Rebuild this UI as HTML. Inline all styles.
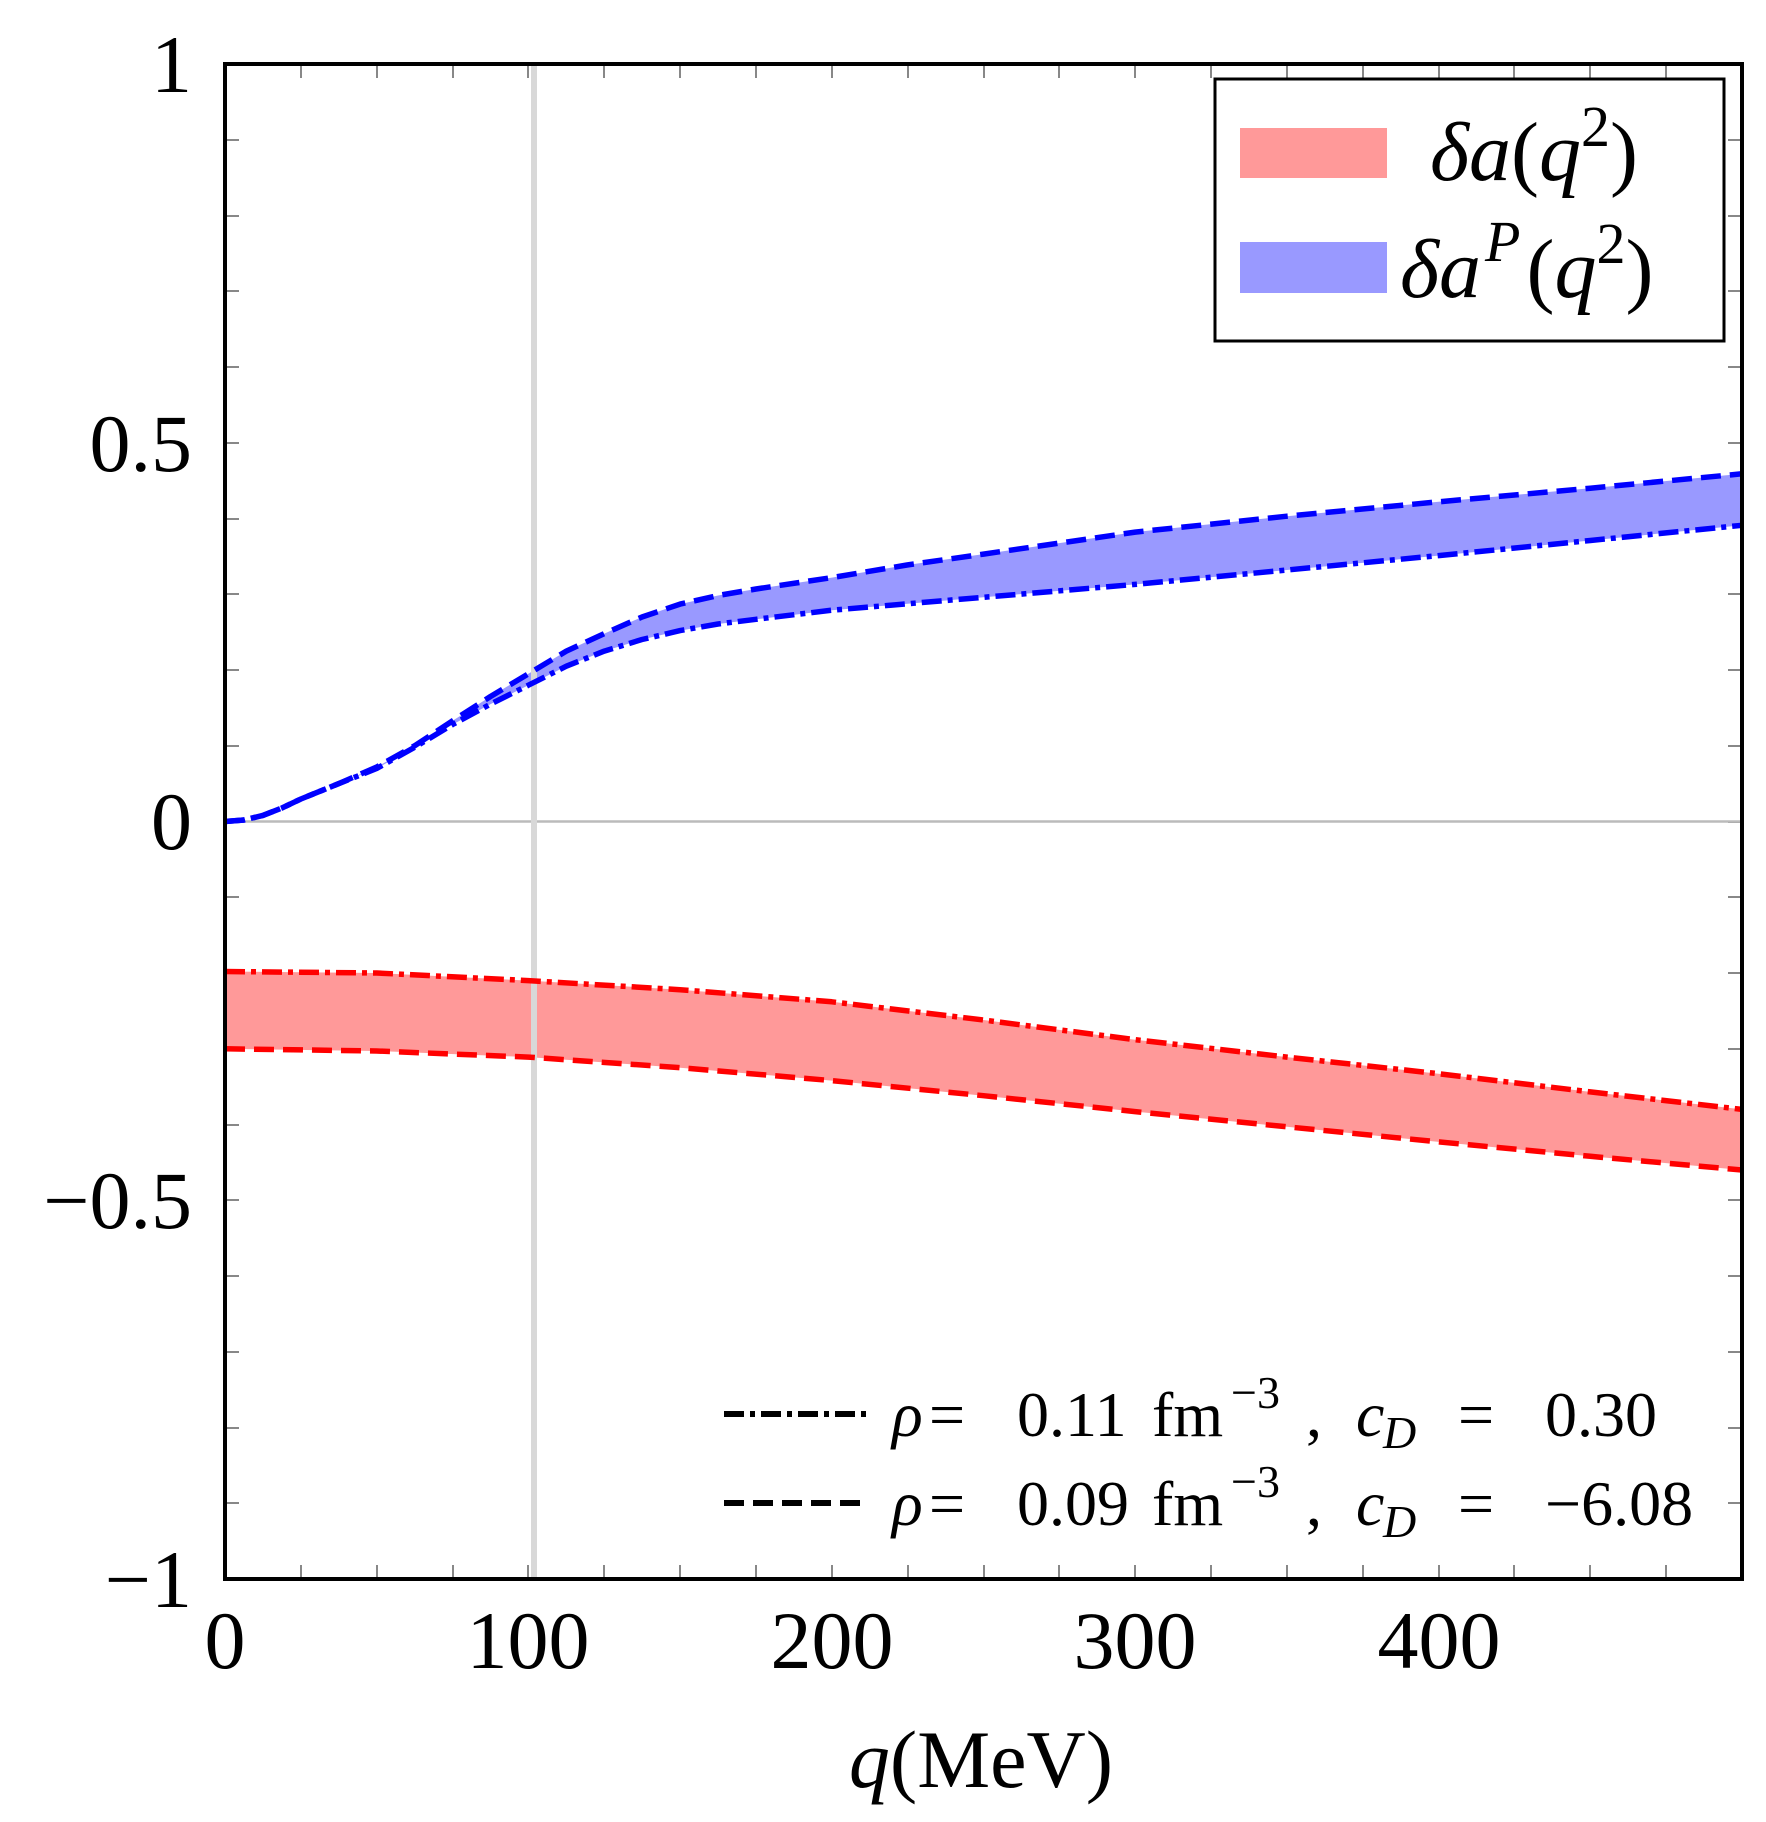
<!DOCTYPE html>
<html><head><meta charset="utf-8"><style>
html,body{margin:0;padding:0;background:#fff}
svg{display:block}
text{font-family:"Liberation Serif",serif;fill:#000}
.i{font-style:italic}
</style></head><body>
<svg width="1766" height="1822" viewBox="0 0 1766 1822" xmlns="http://www.w3.org/2000/svg">
<g stroke="#888" stroke-width="2">
<path d="M225,140h14M225,216h14M225,291h14M225,367h14M225,443h14M225,519h14M225,594h14M225,670h14M225,746h14M225,822h14M225,897h14M225,973h14M225,1049h14M225,1125h14M225,1200h14M225,1276h14M225,1352h14M225,1428h14M225,1503h14"/>
<path d="M1742,140h-14M1742,216h-14M1742,291h-14M1742,367h-14M1742,443h-14M1742,519h-14M1742,594h-14M1742,670h-14M1742,746h-14M1742,822h-14M1742,897h-14M1742,973h-14M1742,1049h-14M1742,1125h-14M1742,1200h-14M1742,1276h-14M1742,1352h-14M1742,1428h-14M1742,1503h-14"/>
<path d="M301,64v14M377,64v14M453,64v14M528,64v14M604,64v14M680,64v14M756,64v14M832,64v14M908,64v14M984,64v14M1059,64v14M1135,64v14M1211,64v14M1287,64v14M1363,64v14M1439,64v14M1514,64v14M1590,64v14M1666,64v14"/>
<path d="M301,1579v-14M377,1579v-14M453,1579v-14M528,1579v-14M604,1579v-14M680,1579v-14M756,1579v-14M832,1579v-14M908,1579v-14M984,1579v-14M1059,1579v-14M1135,1579v-14M1211,1579v-14M1287,1579v-14M1363,1579v-14M1439,1579v-14M1514,1579v-14M1590,1579v-14M1666,1579v-14"/>
</g>
<line x1="225" y1="821.5" x2="1742" y2="821.5" stroke="#bbb" stroke-width="2.5"/>
<path d="M225,971.5 L376.7,973 L528.4,980.6 L680.1,989.7 L831.8,1001.8 L983.5,1020 L1135.2,1039.7 L1286.9,1057.1 L1438.6,1073.7 L1590.3,1091.9 L1742,1109.4 L1742,1170 L1590.3,1156.3 L1438.6,1141.9 L1286.9,1126.8 L1135.2,1111.6 L983.5,1095.7 L831.8,1080.6 L680.1,1067.7 L528.4,1057.1 L376.7,1051 L225,1048.8 Z" fill="#ff9999"/>
<path d="M225,821.5 L244,820 L262.9,815.4 L281.9,808 L300.9,799 L338.8,783.6 L376.7,767 L414.6,745.8 L452.6,720.8 L490.5,696.5 L528.4,673.8 L566.3,651.1 L604.3,633.6 L642,617 L680.1,604.1 L718,595.5 L756,589 L831.8,577.6 L907,565 L983.5,554.1 L1135.2,532.1 L1286.9,516.2 L1438.6,501.8 L1590.3,488.2 L1742,473.8 L1742,525.3 L1590.3,540.5 L1438.6,555.6 L1286.9,570 L1135.2,584.4 L983.5,597.3 L831.8,610.2 L756,619.3 L718,624 L680.1,630.6 L642,639.5 L604.3,651.1 L566.3,666.2 L528.4,685.2 L490.5,704.1 L452.6,724.5 L414.6,747.3 L376.7,768.5 L338.8,783.6 L300.9,799 L281.9,808 L262.9,815.4 L244,820 Z" fill="#9999ff"/>
<line x1="534" y1="64" x2="534" y2="1579" stroke="#d8d8d8" stroke-width="6"/>
<g fill="none" stroke-width="5.5" stroke-linejoin="round">
<polyline stroke="#f00" stroke-dasharray="20 6 5 6" points="225,971.5 376.7,973 528.4,980.6 680.1,989.7 831.8,1001.8 983.5,1020 1135.2,1039.7 1286.9,1057.1 1438.6,1073.7 1590.3,1091.9 1742,1109.4"/>
<polyline stroke="#f00" stroke-dasharray="20 9" points="225,1048.8 376.7,1051 528.4,1057.1 680.1,1067.7 831.8,1080.6 983.5,1095.7 1135.2,1111.6 1286.9,1126.8 1438.6,1141.9 1590.3,1156.3 1742,1170"/>
<polyline stroke="#00f" stroke-dasharray="20 6 5 6" points="225,821.5 244,820 262.9,815.4 281.9,808 300.9,799 338.8,783.6 376.7,768.5 414.6,747.3 452.6,724.5 490.5,704.1 528.4,685.2 566.3,666.2 604.3,651.1 642,639.5 680.1,630.6 718,624 756,619.3 831.8,610.2 983.5,597.3 1135.2,584.4 1286.9,570 1438.6,555.6 1590.3,540.5 1742,525.3"/>
<polyline stroke="#00f" stroke-dasharray="20 9" points="225,821.5 244,820 262.9,815.4 281.9,808 300.9,799 338.8,783.6 376.7,767 414.6,745.8 452.6,720.8 490.5,696.5 528.4,673.8 566.3,651.1 604.3,633.6 642,617 680.1,604.1 718,595.5 756,589 831.8,577.6 907,565 983.5,554.1 1135.2,532.1 1286.9,516.2 1438.6,501.8 1590.3,488.2 1742,473.8"/>
</g>
<rect x="225" y="64" width="1517" height="1515" fill="none" stroke="#000" stroke-width="4"/>
<g font-size="82" text-anchor="end">
<text x="192" y="92">1</text>
<text x="192" y="471">0.5</text>
<text x="192" y="849">0</text>
<text x="192" y="1228">−0.5</text>
<text x="192" y="1607">−1</text>
</g>
<g font-size="82" text-anchor="middle">
<text x="225" y="1668">0</text>
<text x="528" y="1668">100</text>
<text x="832" y="1668">200</text>
<text x="1135" y="1668">300</text>
<text x="1439" y="1668">400</text>
<text x="981" y="1787"><tspan class="i">q</tspan>(MeV)</text>
</g>
<rect x="1215" y="79" width="509" height="262" fill="#fff" stroke="#000" stroke-width="3"/>
<rect x="1240" y="128" width="147" height="50" fill="#ff9999"/>
<rect x="1240" y="242" width="147" height="51" fill="#9999ff"/>
<text x="1430" y="180" font-size="84"><tspan class="i">δa</tspan>(<tspan class="i">q</tspan><tspan font-size="58" dy="-34">2</tspan><tspan dy="34">)</tspan></text>
<text x="1400" y="297" font-size="84"><tspan class="i">δa</tspan><tspan class="i" font-size="58" dy="-36" dx="4">P</tspan><tspan dy="36" dx="6">(</tspan><tspan class="i">q</tspan><tspan font-size="58" dy="-34">2</tspan><tspan dy="34">)</tspan></text>
<line x1="724" y1="1414" x2="869" y2="1414" stroke="#000" stroke-width="6" stroke-dasharray="20 6 5 6"/>
<line x1="724" y1="1503" x2="869" y2="1503" stroke="#000" stroke-width="6" stroke-dasharray="20 9"/>
<g font-size="64">
<text y="1436"><tspan class="i" x="892">ρ</tspan><tspan x="929">=</tspan><tspan x="1017">0.11</tspan><tspan x="1152">fm</tspan><tspan x="1231" font-size="46" dy="-28">−3</tspan><tspan x="1306" dy="28">,</tspan><tspan class="i" x="1356">c</tspan><tspan class="i" x="1383" font-size="46" dy="12">D</tspan><tspan x="1458" dy="-12">=</tspan><tspan x="1545">0.30</tspan></text>
<text y="1525"><tspan class="i" x="892">ρ</tspan><tspan x="929">=</tspan><tspan x="1017">0.09</tspan><tspan x="1152">fm</tspan><tspan x="1231" font-size="46" dy="-28">−3</tspan><tspan x="1306" dy="28">,</tspan><tspan class="i" x="1356">c</tspan><tspan class="i" x="1383" font-size="46" dy="12">D</tspan><tspan x="1458" dy="-12">=</tspan><tspan x="1545">−6.08</tspan></text>
</g>
</svg>
</body></html>
